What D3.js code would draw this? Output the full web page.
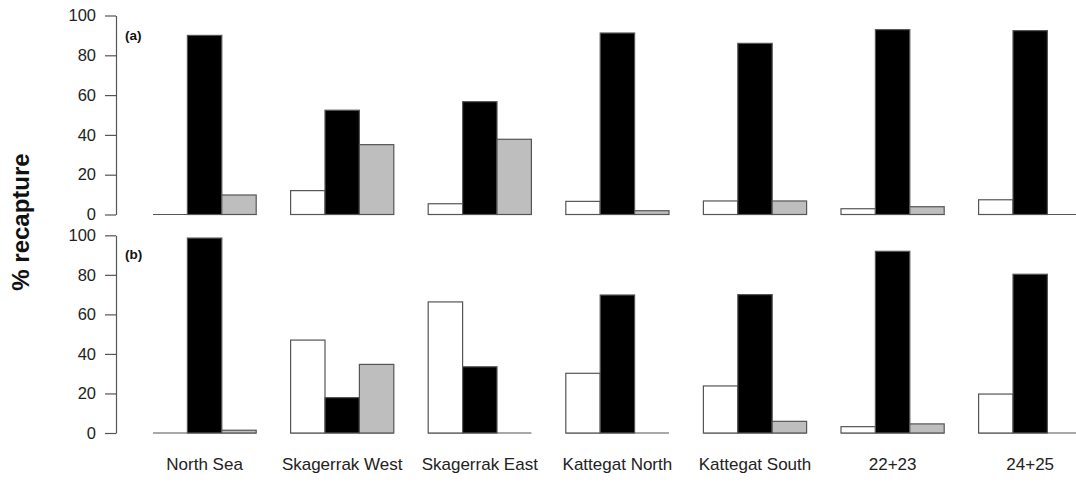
<!DOCTYPE html>
<html>
<head>
<meta charset="utf-8">
<script src="https://cdn.jsdelivr.net/npm/d3@7"></script>
<style>
  html, body { margin: 0; padding: 0; background: #fff; }
  svg { display: block; font-family: "Liberation Sans", Arial, sans-serif; }
</style>
</head>
<body>
<svg id="chart" width="1076" height="483"></svg>
<script>
// Recapture areas (x categories)
const areas = ["North Sea", "Skagerrak West", "Skagerrak East", "Kattegat North", "Kattegat South", "22+23", "24+25"];
// Three recapture classes drawn per area: white, black, grey
const seriesKeys = ["s1", "s2", "s3"];
const seriesFill = ["#ffffff", "#000000", "#bebebe"];

// Panel (a) percentages
const panelA_s1 = [0, 12.0, 5.4, 6.6, 6.8, 2.9, 7.4];
const panelA_s2 = [90.0, 52.4, 56.7, 91.2, 86.0, 92.9, 92.4];
const panelA_s3 = [9.8, 35.1, 37.8, 1.9, 6.8, 3.9, 0];

// Panel (b) percentages
const panelB_s1 = [0, 47.0, 66.3, 30.2, 23.8, 3.2, 19.7];
const panelB_s2 = [98.6, 17.9, 33.5, 69.8, 70.0, 91.9, 80.3];
const panelB_s3 = [1.4, 34.7, 0, 0, 5.9, 4.6, 0];

const yTicks = [0, 20, 40, 60, 80, 100];

const panels = [
  { label: "(a)", values: [panelA_s1, panelA_s2, panelA_s3], top: 15.5, bottom: 214.5 },
  { label: "(b)", values: [panelB_s1, panelB_s2, panelB_s3], top: 235.3, bottom: 433 }
];

const svg = d3.select("#chart");
const axisX = 116;

// Groups: three bars each, with one bar-width gap between groups
const xGroup = d3.scaleBand()
  .domain(areas)
  .range([153, 1081.8])
  .paddingInner(0.25)
  .paddingOuter(0);

const xBar = d3.scaleBand()
  .domain(seriesKeys)
  .range([0, xGroup.bandwidth()])
  .padding(0);

panels.forEach(p => {
  const y = d3.scaleLinear().domain([0, 100]).range([p.bottom, p.top]);
  const g = svg.append("g");

  // y axis
  const axis = d3.axisLeft(y).tickValues(yTicks).tickSize(11).tickPadding(9).tickSizeOuter(0);
  const ax = g.append("g").attr("transform", `translate(${axisX},0)`).call(axis);
  ax.select(".domain").attr("stroke", "#555").attr("stroke-width", 1.2);
  ax.selectAll(".tick line").attr("stroke", "#555").attr("stroke-width", 1.2);
  ax.selectAll(".tick text")
    .attr("font-size", 16.5)
    .attr("fill", "#222")
    .attr("font-family", "Liberation Sans, Arial, sans-serif");

  // bars
  const rows = areas.map((a, i) => ({ area: a, vals: seriesKeys.map((k, j) => ({ key: k, j, v: p.values[j][i] })) }));
  const grp = g.selectAll("g.grp").data(rows).join("g")
    .attr("class", "grp")
    .attr("transform", d => `translate(${xGroup(d.area)},0)`);

  // zero line under each group (zero-height bars collapse onto it)
  grp.append("line")
    .attr("x1", 0)
    .attr("x2", xGroup.bandwidth())
    .attr("y1", y(0))
    .attr("y2", y(0))
    .attr("stroke", "#555")
    .attr("stroke-width", 1.2);

  grp.selectAll("rect").data(d => d.vals.filter(b => b.v > 0)).join("rect")
    .attr("x", d => xBar(d.key))
    .attr("width", xBar.bandwidth())
    .attr("y", d => y(d.v))
    .attr("height", d => y(0) - y(d.v))
    .attr("fill", d => seriesFill[d.j])
    .attr("stroke", "#555")
    .attr("stroke-width", 1.2);

  // panel tag
  g.append("text")
    .attr("x", 125)
    .attr("y", p.top + 24)
    .attr("font-size", 13.5)
    .attr("font-weight", "bold")
    .attr("fill", "#111")
    .text(p.label);
});

// category labels under the lower panel
svg.append("g").selectAll("text").data(areas).join("text")
  .attr("x", d => xGroup(d) + xGroup.bandwidth() / 2)
  .attr("y", 470)
  .attr("text-anchor", "middle")
  .attr("font-size", 17)
  .attr("fill", "#222")
  .text(d => d);

// y axis title
svg.append("text")
  .attr("transform", "translate(29,222) rotate(-90)")
  .attr("text-anchor", "middle")
  .attr("font-size", 24)
  .attr("font-weight", "bold")
  .attr("fill", "#111")
  .text("% recapture");
</script>
</body>
</html>
